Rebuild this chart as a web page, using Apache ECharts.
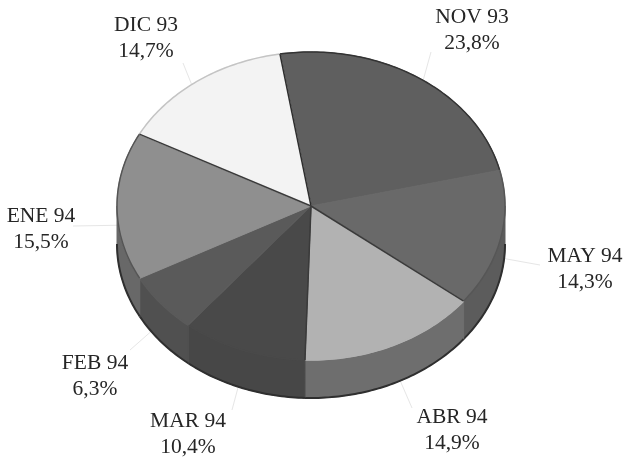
<!DOCTYPE html>
<html><head><meta charset="utf-8">
<style>html,body{margin:0;padding:0;background:#fff}#c{width:625px;height:460px}</style>
<script src="https://cdn.jsdelivr.net/npm/echarts@6/dist/echarts.min.js"></script>
</head><body><div id="c"></div>
<script>
const categories = ["NOV 93","MAY 94","ABR 94","MAR 94","FEB 94","ENE 94","DIC 93"];
const values = [23.8,14.3,14.9,10.4,6.3,15.5,14.7];
const valueLabels = ["23,8%","14,3%","14,9%","10,4%","6,3%","15,5%","14,7%"];

const topColors  = ["#5f5f5f","#696969","#b2b2b2","#494949","#5a5a5a","#8f8f8f","#f3f3f3"];
const sideColors = ["#5f5f5f","#5c5c5c","#6e6e6e","#474747","#505050","#686868","#f3f3f3"];
const rimColors  = ["#333333","#565656","#b2b2b2","#494949","#5a5a5a","#555555","#c4c4c4"];
const startEdge  = ["#2e2e2e",null,"#3a3a3a","#3a3a3a",null,null,"#3a3a3a"];
const labelAt    = [[472,30],[585,269],[452,430],[188,434],[95,376],[41,229],[146,38]];
const leaderEnd  = [[431,52],[540,265],[412,408],[232,410],[130,350],[73,226],[183,63]];

const CX=311, CY=206, RX=194, RY=154, DEPTH=38, START=-9.2;
const total = values.reduce((a,b)=>a+b,0);
const bounds = [START];
values.forEach(v=>bounds.push(bounds[bounds.length-1]+v/total*360));
const rad = d=>d*Math.PI/180;
const pt = (t,dy=0)=>[CX+RX*Math.sin(rad(t)), CY-RY*Math.cos(rad(t))+dy];
function arc(a,b,dy=0){const n=Math.max(2,Math.ceil(Math.abs(b-a)));const r=[];
  for(let i=0;i<=n;i++)r.push(pt(a+(b-a)*i/n,dy));return r;}

function renderSlice(params,api){
  const i=params.dataIndex, a=bounds[i], b=a+api.value(1)/total*360;
  const children=[];
  const s=Math.max(a,90), e=Math.min(b,270);
  if(e>s){
    const top=arc(s,e), bot=arc(e,s,DEPTH);
    children.push({type:'polygon',shape:{points:top.concat(bot)},
      style:{fill:sideColors[i],stroke:sideColors[i],lineWidth:1}});
    children.push({type:'polyline',shape:{points:arc(s,e,DEPTH)},
      style:{fill:null,stroke:'#2f2f2f',lineWidth:2}});
  }
  children.push({type:'polygon',shape:{points:[[CX,CY]].concat(arc(a,b))},
    style:{fill:topColors[i],stroke:topColors[i],lineWidth:1}});
  children.push({type:'polyline',shape:{points:arc(a,b)},
    style:{fill:null,stroke:rimColors[i],lineWidth:1.5}});
  return {type:'group',children};
}
function renderEdges(params){
  const i=params.dataIndex;
  if(!startEdge[i])return {type:'group',children:[]};
  return {type:'line',shape:{x1:CX,y1:CY,x2:pt(bounds[i])[0],y2:pt(bounds[i])[1]},
    style:{stroke:startEdge[i],lineWidth:1.5}};
}
function renderLabel(params,api){
  const i=params.dataIndex, mid=bounds[i]+api.value(1)/total*180;
  const p=pt(mid,DEPTH/2);
  return {type:'group',children:[
    {type:'line',shape:{x1:p[0],y1:p[1],x2:leaderEnd[i][0],y2:leaderEnd[i][1]},
      style:{stroke:'#e6e6e6',lineWidth:1}},
    {type:'text',x:labelAt[i][0],y:labelAt[i][1],
      style:{text:categories[i]+"\n"+valueLabels[i],fill:'#262626',align:'center',verticalAlign:'middle',
        font:'21.5px "Liberation Serif"',lineHeight:26}}
  ]};
}
const rows=categories.map((c,i)=>[c,values[i]]);
const chart=echarts.init(document.getElementById('c'),null,{renderer:'canvas'});
chart.setOption({
  animation:false,
  backgroundColor:'#ffffff',
  series:[
    {type:'custom',coordinateSystem:'none',z:1,silent:true,data:rows,renderItem:renderLabel},
    {type:'custom',coordinateSystem:'none',z:2,silent:true,data:rows,renderItem:renderSlice},
    {type:'custom',coordinateSystem:'none',z:3,silent:true,data:rows,renderItem:renderEdges}
  ]
});
</script></body></html>
